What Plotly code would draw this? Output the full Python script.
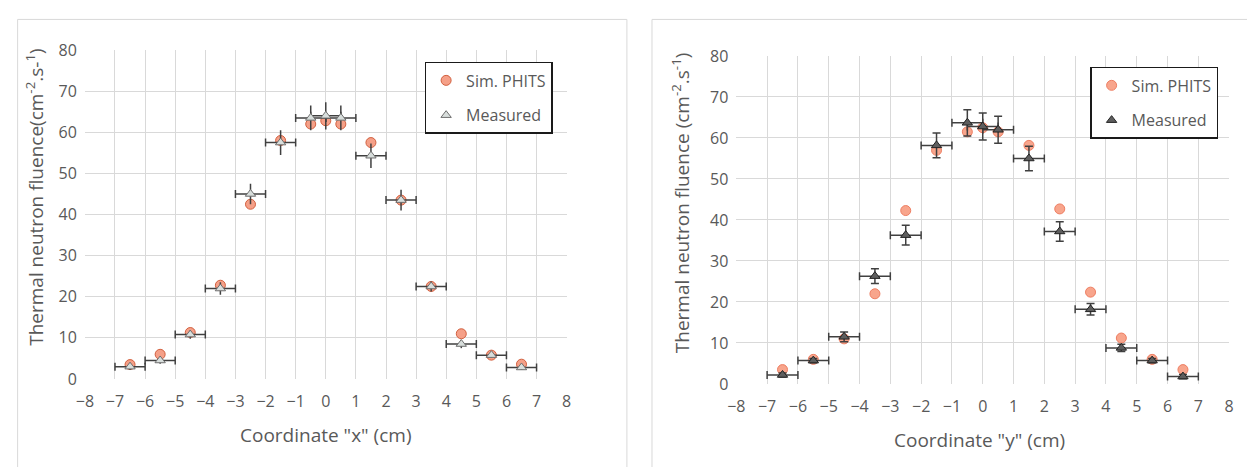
import plotly.graph_objects as go

# ---------------- data ----------------
positions = [-6.5, -5.5, -4.5, -3.5, -2.5, -1.5, -0.5, 0, 0.5, 1.5, 2.5, 3.5, 4.5, 5.5, 6.5]
pos_err = [0.5] * 15

sim_x = [3.5, 6.0, 11.3, 22.8, 42.5, 58.0, 62.0, 62.8, 62.0, 57.5, 43.5, 22.5, 11.0, 5.8, 3.6]
meas_x = [3.0, 4.5, 10.8, 22.0, 45.0, 57.5, 63.5, 64.0, 63.5, 54.3, 43.5, 22.5, 8.5, 5.8, 2.8]
meas_x_err = [0.8, 0.8, 1.0, 1.5, 2.5, 3.0, 3.0, 3.3, 3.0, 3.0, 2.5, 1.2, 1.0, 0.6, 0.6]

sim_y = [3.5, 6.0, 11.0, 22.0, 42.3, 57.0, 61.5, 62.5, 61.5, 58.2, 42.7, 22.4, 11.2, 6.0, 3.5]
meas_y = [2.2, 5.7, 11.5, 26.3, 36.3, 58.2, 63.7, 62.8, 62.0, 55.0, 37.2, 18.2, 8.8, 5.7, 1.8]
meas_y_err = [0.5, 0.5, 1.2, 1.8, 2.4, 3.0, 3.2, 3.3, 3.3, 3.0, 2.4, 1.4, 0.9, 0.5, 0.5]

x_ticks = list(range(-8, 9))
y_ticks = list(range(0, 81, 10))

# ---------------- layout helpers ----------------
OFF = 8
W, H = 1255 - 2 * OFF, 475 - 2 * OFF

def px(X):
    # X: target pixel column in the final picture
    Xi = (X - 9.5) / 0.985
    return (Xi - OFF) / W

def py(Y):
    # Y: target pixel row in the final picture
    Yi = (Y - 11.1) / 0.958
    return 1 - (Yi - OFF) / H

FONT = "Open Sans"
GRAY = "#595959"
GRID = "#d9d9d9"
ERR = "#404040"

fig = go.Figure()

# Left chart (x profile)
fig.add_trace(go.Scatter(
    x=positions, y=sim_x, mode="markers", name="Sim. PHITS",
    marker=dict(symbol="circle", size=10, color="#F5A088", line=dict(color="#D2603F", width=1)),
    xaxis="x", yaxis="y", legend="legend", legendgroup="a"))
fig.add_trace(go.Scatter(
    x=positions, y=meas_x, mode="markers", name="Measured",
    marker=dict(symbol="triangle-up", size=9, color="#D8DEDC", line=dict(color="#6E6E6E", width=1)),
    error_x=dict(type="data", array=pos_err, color=ERR, thickness=1.5, width=4),
    error_y=dict(type="data", array=meas_x_err, color=ERR, thickness=1.5, width=0),
    xaxis="x", yaxis="y", legend="legend", legendgroup="b"))

# Right chart (y profile)
fig.add_trace(go.Scatter(
    x=positions, y=sim_y, mode="markers", name="Sim. PHITS",
    marker=dict(symbol="circle", size=10, color="#F8A58C", line=dict(color="#EE7E62", width=1)),
    xaxis="x2", yaxis="y2", legend="legend2", legendgroup="c"))
fig.add_trace(go.Scatter(
    x=positions, y=meas_y, mode="markers", name="Measured",
    marker=dict(symbol="triangle-up", size=9, color="#5E5E5E", line=dict(color="#222222", width=1)),
    error_x=dict(type="data", array=pos_err, color=ERR, thickness=1.5, width=4),
    error_y=dict(type="data", array=meas_y_err, color=ERR, thickness=1.5, width=4),
    xaxis="x2", yaxis="y2", legend="legend2", legendgroup="d"))

tickfont = dict(family=FONT, size=16, color=GRAY)
xcommon = dict(range=[-8, 8], tickvals=x_ticks, showgrid=True, gridcolor=GRID, gridwidth=1,
               zeroline=False, showline=False, ticks="", tickfont=tickfont,
               ticklabelstandoff=11, fixedrange=True)
ycommon = dict(range=[0, 80], tickvals=y_ticks, showgrid=True, gridcolor=GRID, gridwidth=1,
               zeroline=False, showline=False, ticks="", tickfont=tickfont,
               ticklabelstandoff=7, fixedrange=True)

legend_common = dict(bgcolor="white", bordercolor="#1a1a1a", borderwidth=1.5,
                     font=dict(family=FONT, size=16, color=GRAY),
                     xanchor="right", yanchor="top", tracegroupgap=11,
                     itemwidth=30)

fig.update_layout(
    width=W, height=H,
    margin=dict(l=0, r=0, t=0, b=0),
    paper_bgcolor="white", plot_bgcolor="white",
    font=dict(family=FONT, color=GRAY),
    xaxis=dict(domain=[px(85), px(565)], anchor="y", **xcommon),
    yaxis=dict(domain=[py(381), py(50)], anchor="x", **ycommon),
    xaxis2=dict(domain=[px(734), px(1225)], anchor="y2", **xcommon),
    yaxis2=dict(domain=[py(386), py(56)], anchor="x2", **ycommon),
    legend=dict(x=px(551), y=py(62), **legend_common),
    legend2=dict(x=px(1214), y=py(67), **legend_common),
    showlegend=True,
)

# panel borders
fig.add_shape(type="rect", xref="paper", yref="paper",
              x0=0.0005, x1=px(625), y0=-0.2, y1=0.999,
              line=dict(color=GRID, width=1), layer="below")
fig.add_shape(type="rect", xref="paper", yref="paper",
              x0=px(650), x1=1.2, y0=-0.2, y1=0.999,
              line=dict(color=GRID, width=1), layer="below")

# axis titles
title_font = dict(family=FONT, size=19, color=GRAY)
common_ann = dict(xref="paper", yref="paper", showarrow=False, font=title_font,
                  xanchor="center", yanchor="middle")
fig.add_annotation(x=px(35), y=py(198),
                   text="Thermal neutron fluence(cm<sup>-2</sup>.s-<sup>1</sup>)",
                   textangle=-90, **common_ann)
fig.add_annotation(x=px(679), y=py(204),
                   text="Thermal neutron fluence (cm<sup>-2</sup>.s<sup>-1</sup>)",
                   textangle=-90, **common_ann)
fig.add_annotation(x=px(325), y=py(437),
                   text="Coordinate \"x\" (cm)", **common_ann)
fig.add_annotation(x=px(976), y=py(442),
                   text="Coordinate \"y\" (cm)", **common_ann)

fig.write_html("out.html", config={"displayModeBar": False})
